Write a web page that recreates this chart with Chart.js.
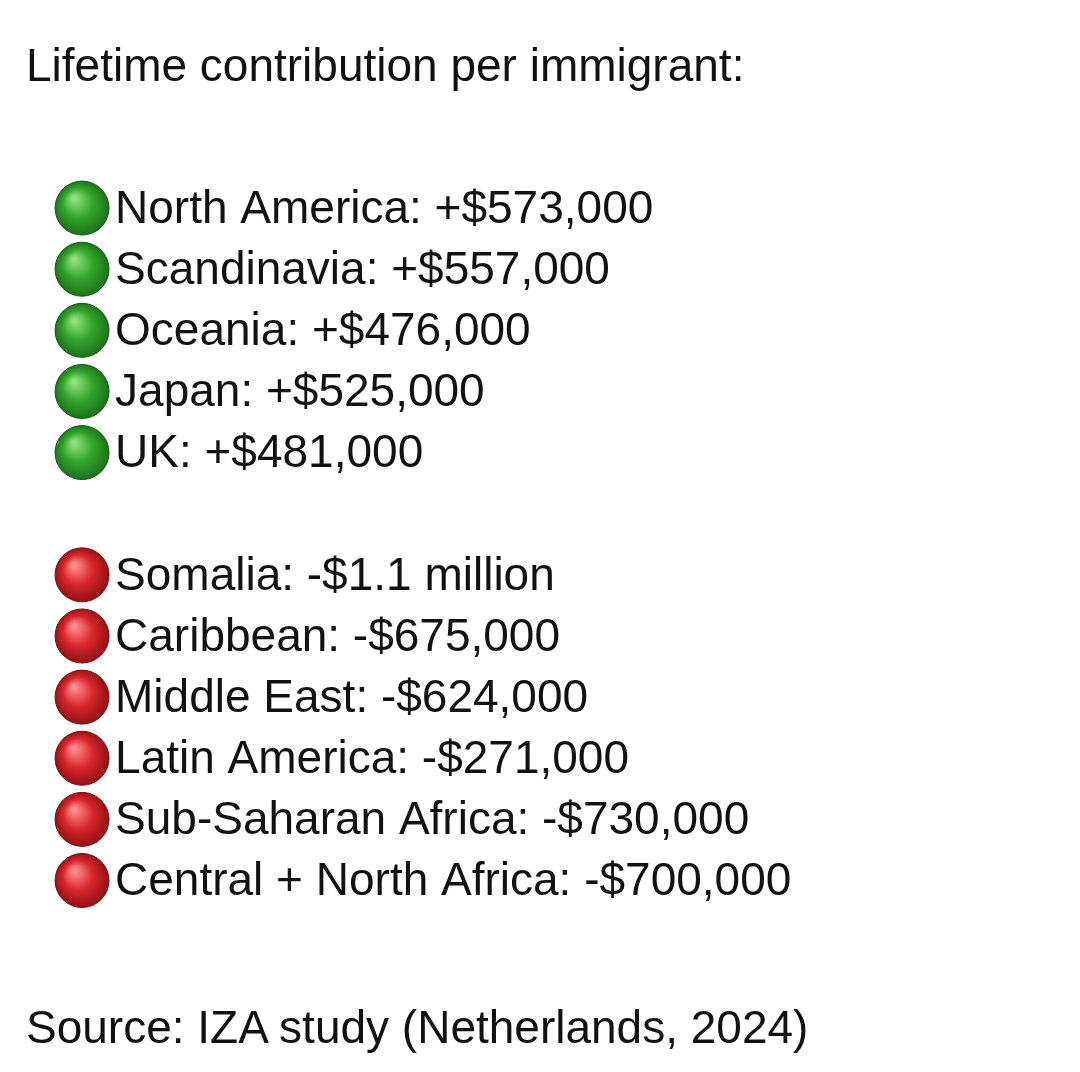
<!DOCTYPE html>
<html>
<head>
<meta charset="utf-8">
<script src="https://cdn.jsdelivr.net/npm/chart.js@4"></script>
<style>
  body { margin: 0; background: #fff; }
  #wrap { position: relative; width: 1080px; height: 1072px; }
  .txt { position: absolute; left: 26px; font-family: "Liberation Sans", Arial, sans-serif; font-size: 46px; color: #111; white-space: nowrap; }
</style>
</head>
<body>
<div id="wrap">
  <canvas id="c" width="1080" height="1072"></canvas>
  <div class="txt" style="top:38px">Lifetime contribution per immigrant:</div>
  <div class="txt" style="top:1000px">Source: IZA study (Netherlands, 2024)</div>
</div>
<script>
// rows of the list
const positiveRegions = ["North America", "Scandinavia", "Oceania", "Japan", "UK"];
const positiveValues = ["+$573,000", "+$557,000", "+$476,000", "+$525,000", "+$481,000"];
const negativeRegions = ["Somalia", "Caribbean", "Middle East", "Latin America", "Sub-Saharan Africa", "Central + North Africa"];
const negativeValues = ["-$1.1 million", "-$675,000", "-$624,000", "-$271,000", "-$730,000", "-$700,000"];

const rows = [];
positiveRegions.forEach((r, i) => rows.push({ x: 0, y: i, label: r + ": " + positiveValues[i], good: true }));
negativeRegions.forEach((r, i) => rows.push({ x: 0, y: i + 6, label: r + ": " + negativeValues[i], good: false }));

function circleFill(ctx) {
  const el = ctx.element, d = ctx.raw;
  const good = d ? d.good : true;
  if (!el || !Number.isFinite(el.x) || !Number.isFinite(el.y)) return good ? "#2e9e2a" : "#d9262b";
  const c = ctx.chart.ctx;
  const g = c.createRadialGradient(el.x - 8, el.y - 10, 2, el.x, el.y, 28);
  if (good) { g.addColorStop(0, "#8ee07a"); g.addColorStop(0.5, "#33a52c"); g.addColorStop(1, "#1c6e1a"); }
  else { g.addColorStop(0, "#ff8a8a"); g.addColorStop(0.5, "#d9262b"); g.addColorStop(1, "#8e1116"); }
  return g;
}

const rowLabels = {
  id: "rowLabels",
  afterDatasetsDraw(chart) {
    const c = chart.ctx, meta = chart.getDatasetMeta(0);
    c.save();
    c.font = '46px "Liberation Sans", Arial, sans-serif';
    c.fillStyle = "#111";
    c.textBaseline = "middle";
    meta.data.forEach((pt, i) => c.fillText(rows[i].label, pt.x + 33, pt.y + 2));
    c.restore();
  }
};

new Chart(document.getElementById("c"), {
  type: "scatter",
  data: {
    datasets: [{
      data: rows,
      pointRadius: 27,
      pointHoverRadius: 27,
      backgroundColor: circleFill,
      borderColor: rows.map(r => r.good ? "#155a14" : "#7a0e12"),
      borderWidth: 1
    }]
  },
  options: {
    responsive: false,
    animation: false,
    layout: { padding: 0 },
    plugins: { legend: { display: false }, tooltip: { enabled: false } },
    scales: {
      x: { display: false, min: -57 / 1023, max: 1 },
      y: { display: false, reverse: true, min: -190 / 64.5, max: (1072 - 190) / 64.5 }
    }
  },
  plugins: [rowLabels]
});
</script>
</body>
</html>
